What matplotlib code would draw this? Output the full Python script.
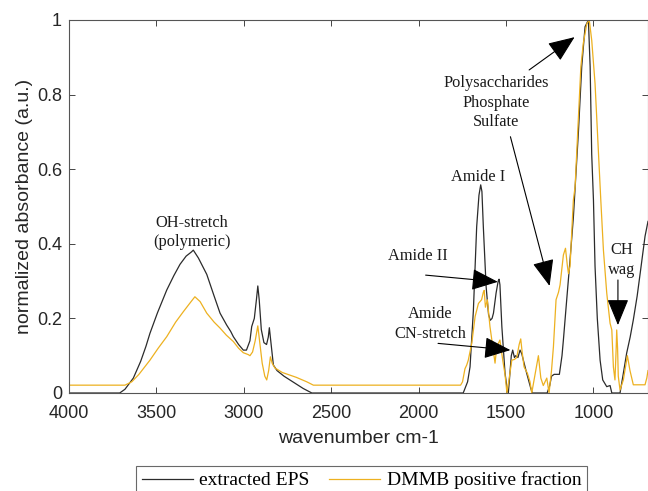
import matplotlib.pyplot as plt

# extracted EPS spectrum
wn_eps = [4000, 3710, 3680, 3632, 3590, 3560, 3537, 3494, 3441, 3400, 3365, 3330, 3300, 3289,
          3260, 3212, 3170, 3136, 3098, 3075, 3060, 3030, 3003, 2985, 2965, 2955,
          2940, 2928, 2920, 2912, 2900, 2885, 2870, 2860, 2854, 2846, 2831, 2810,
          2770, 2720, 2660, 2611, 1745, 1720, 1706, 1687, 1668, 1655, 1645, 1638,
          1630, 1614, 1600, 1590, 1580, 1572, 1557, 1545, 1540, 1535, 1524, 1506,
          1493, 1487, 1480, 1470, 1462, 1452, 1445, 1432, 1420, 1410, 1401, 1382,
          1360, 1350, 1265, 1250, 1240, 1225, 1195, 1180, 1172, 1153, 1134, 1115,
          1086, 1067, 1048, 1029, 1019, 1010, 1000, 991, 978, 962, 947, 924, 905,
          895, 848, 830, 810, 790, 772, 750, 733, 705, 688]
abs_eps = [0, 0, 0.01, 0.04, 0.085, 0.125, 0.16, 0.215, 0.276, 0.315, 0.345, 0.367, 0.378, 0.383,
           0.362, 0.318, 0.26, 0.214, 0.182, 0.165, 0.151, 0.13, 0.115, 0.115, 0.14, 0.178,
           0.2, 0.25, 0.287, 0.25, 0.17, 0.135, 0.13, 0.15, 0.175, 0.14, 0.075, 0.06,
           0.045, 0.03, 0.012, 0, 0, 0.03, 0.07, 0.22, 0.446, 0.53, 0.558, 0.54,
           0.446, 0.285, 0.21, 0.195, 0.2, 0.214, 0.268, 0.3, 0.305, 0.29, 0.178, 0.054,
           0.008, 0, 0.04, 0.1, 0.115, 0.095, 0.1, 0.095, 0.115, 0.105, 0.088, 0.053,
           0.015, 0, 0, 0.02, 0.045, 0.05, 0.05, 0.1, 0.142, 0.25, 0.357, 0.47,
           0.7, 0.875, 0.982, 1.0, 0.875, 0.64, 0.517, 0.34, 0.2, 0.088, 0.035, 0.017, 0.02,
           0, 0, 0.05, 0.107, 0.15, 0.196, 0.26, 0.32, 0.42, 0.46]

# DMMB positive fraction spectrum
wn_dmmb = [4000, 3680, 3641, 3600, 3537, 3490, 3441, 3390, 3346, 3310, 3280, 3250,
           3212, 3170, 3136, 3100, 3060, 3030, 3003, 2975, 2965, 2950, 2935, 2920,
           2910, 2895, 2880, 2869, 2858, 2848, 2838, 2822, 2780, 2700, 2640, 2602,
           1760, 1749, 1735, 1725, 1716, 1696, 1677, 1658, 1640, 1630, 1625, 1618,
           1607, 1592, 1576, 1563, 1553, 1535, 1519, 1506, 1495, 1485, 1467, 1452,
           1439, 1425, 1416, 1408, 1397, 1378, 1363, 1353, 1334, 1315, 1301, 1287,
           1267, 1254, 1240, 1229, 1214, 1200, 1191, 1172, 1160, 1149, 1143, 1134,
           1115, 1105, 1086, 1072, 1058, 1038, 1024, 1010, 991, 972, 958, 943, 924,
           905, 895, 886, 877, 870, 867, 862, 858, 848, 829, 806, 791, 772, 705, 695, 688]
abs_dmmb = [0.021, 0.021, 0.03, 0.05, 0.088, 0.12, 0.151, 0.19, 0.218, 0.24, 0.258, 0.245,
            0.214, 0.19, 0.174, 0.155, 0.138, 0.12, 0.108, 0.103, 0.1, 0.11, 0.14, 0.18,
            0.14, 0.08, 0.045, 0.035, 0.06, 0.097, 0.08, 0.067, 0.055, 0.042, 0.03, 0.021,
            0.021, 0.03, 0.065, 0.075, 0.088, 0.134, 0.205, 0.24, 0.25, 0.27, 0.275, 0.23,
            0.25, 0.178, 0.124, 0.08, 0.124, 0.142, 0.088, 0.05, 0.0, 0.03, 0.088, 0.09,
            0.095, 0.13, 0.145, 0.11, 0.07, 0.053, 0.03, 0.0, 0.05, 0.1, 0.04, 0.02,
            0.04, 0.0, 0.06, 0.124, 0.25, 0.27, 0.29, 0.37, 0.388, 0.34, 0.32, 0.34,
            0.517, 0.553, 0.74, 0.875, 0.938, 0.99, 1.0, 0.946, 0.83, 0.65, 0.517, 0.383, 0.268,
            0.187, 0.169, 0.07, 0.035, 0.12, 0.169, 0.12, 0.045, 0.008, 0.035, 0.1, 0.06, 0.022, 0.022, 0.04, 0.06]

x_ticks = [4000, 3500, 3000, 2500, 2000, 1500, 1000]
y_ticks = [0, 0.2, 0.4, 0.6, 0.8, 1]
y_ticklabels = ["0", "0.2", "0.4", "0.6", "0.8", "1"]

sans = "Liberation Sans"
serif = "Liberation Serif"
c_eps = "#2b2b2b"
c_dmmb = "#EDB120"

fig = plt.figure(figsize=(6.48, 4.91), dpi=100)
ax = fig.add_axes([0.1065, 0.1996, 0.8935, 0.7597])

ax.plot(wn_eps, abs_eps, color=c_eps, lw=0.9, label="extracted EPS")
ax.plot(wn_dmmb, abs_dmmb, color=c_dmmb, lw=0.9, label="DMMB positive fraction")

ax.set_xlim(4000, 688)
ax.set_ylim(0, 1)
ax.set_xticks(x_ticks)
ax.set_yticks(y_ticks)
ax.set_yticklabels(y_ticklabels)
ax.tick_params(direction="in", length=4, width=0.7, top=True, right=True,
               colors="#444444", labelcolor="#262626", labelsize=13)
ax.tick_params(axis="x", pad=8.5)
ax.tick_params(axis="y", pad=5)
for lab in ax.get_xticklabels() + ax.get_yticklabels():
    lab.set_fontfamily(sans)
for s in ax.spines.values():
    s.set_color("#555555")
    s.set_linewidth(0.8)

ax.set_xlabel("wavenumber cm-1", fontsize=14, family=sans, color="#262626", labelpad=6)
ax.set_ylabel("normalized absorbance (a.u.)", fontsize=14, family=sans, color="#262626", labelpad=3)

# annotations
txt = dict(fontsize=11.8, family=serif, ha="center", va="center", color="#1a1a1a",
           linespacing=1.3)
arr = dict(arrowstyle="-|>,head_length=1.1,head_width=0.45", color="black", lw=0.8,
           shrinkA=0, shrinkB=0, mutation_scale=15)

ax.text(3296, 0.43, "OH-stretch\n(polymeric)", **txt)
ax.text(1657, 0.58, "Amide I", **txt)
ax.text(2007, 0.367, "Amide II", **txt)
ax.annotate("", xy=(1547, 0.298), xytext=(1960, 0.316), arrowprops=arr)
ax.text(1936, 0.185, "Amide\nCN-stretch", **txt)
ax.annotate("", xy=(1475, 0.115), xytext=(1889, 0.133), arrowprops=arr)
ax.text(1557, 0.778, "Polysaccharides\nPhosphate\nSulfate", **txt)
ax.annotate("", xy=(1108, 0.954), xytext=(1368, 0.866), arrowprops=arr)
ax.annotate("", xy=(1251, 0.287), xytext=(1475, 0.687), arrowprops=arr)
ax.text(836, 0.357, "CH\nwag", **txt)
ax.annotate("", xy=(860, 0.182), xytext=(860, 0.303), arrowprops=arr)

leg = fig.legend(loc="upper center", bbox_to_anchor=(0.558, 0.0515), ncol=2,
                 prop={"family": serif, "size": 14}, frameon=True, fancybox=False,
                 edgecolor="#444444", handlelength=2.6, columnspacing=1.0,
                 handletextpad=0.35, borderpad=0.3, borderaxespad=0)
leg.get_frame().set_linewidth(0.8)

fig.savefig("out.png", dpi=100)
